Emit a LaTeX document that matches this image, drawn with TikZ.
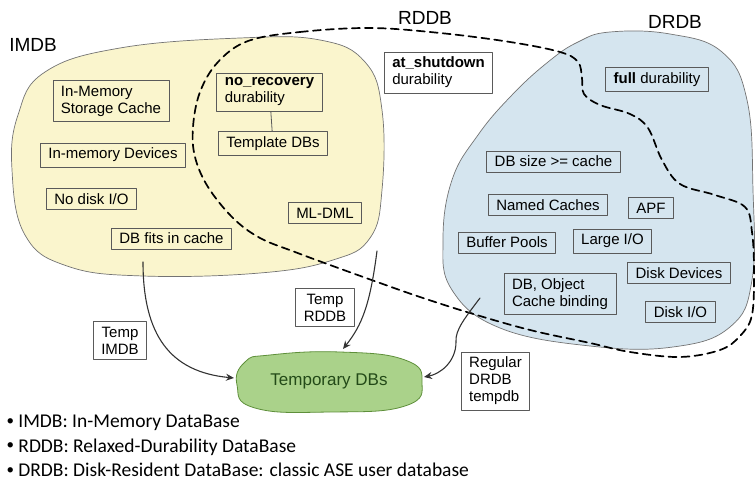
\documentclass[tikz,border=0pt]{standalone}
\usepackage{fontspec}
\setmainfont{Liberation Sans}
\newfontfamily\notefont{Carlito}
\usetikzlibrary{arrows.meta}

\definecolor{imdbfill}{HTML}{FAF5CD}
\definecolor{drdbfill}{HTML}{D5E5EF}
\definecolor{tempfill}{HTML}{AAD28A}
\definecolor{templine}{HTML}{5E8F3A}
\definecolor{temptext}{HTML}{234A18}
\definecolor{boxline}{HTML}{5A5A5A}

\newcommand{\notedot}{\raisebox{0.12em}{\fontsize{15}{15}\selectfont\textbullet}\ }

\tikzset{
  box/.style={draw=boxline, line width=0.8pt, inner xsep=8pt, inner ysep=5pt,
    font=\fontsize{15}{17}\selectfont, align=left},
  setname/.style={font=\fontsize{19}{21}\selectfont},
  feed/.style={line width=1.1pt, draw=black!80, -{Stealth[length=8pt, width=7pt]}},
  note/.style={anchor=west, font=\notefont\fontsize{19.5}{21}\selectfont}
}

\begin{document}
\begin{tikzpicture}[x=1pt, y=-1pt, line cap=round, line join=round]
  \useasboundingbox (0,0) rectangle (756,481);

  % the three regions
  \draw[fill=imdbfill, draw=black!55, line width=0.7pt] plot[smooth cycle, tension=0.7] coordinates {
    (240,38) (320,40) (365,62) (382,110) (382,190) (370,238) (333,260) (260,273)
    (143,276) (67,266) (25,235) (12,170) (18,115) (45,72) (120,48)};
  \draw[fill=drdbfill, draw=black!55, line width=0.7pt] plot[smooth cycle, tension=0.7] coordinates {
    (610,32) (670,34) (722,52) (747,100) (753,190) (752,280) (730,327) (673,347)
    (590,346) (500,328) (452,290) (443,240) (452,180) (478,135) (512,95) (548,62) (578,42)};
  \draw[fill=tempfill, draw=templine, line width=0.8pt] plot[smooth cycle, tension=0.8] coordinates {
    (270,355) (340,352) (405,360) (422,382) (405,406) (330,412) (255,408) (237,385) (245,362)};

  % RDDB border
  \draw[line width=1.7pt, dash pattern=on 8pt off 5pt] plot[smooth cycle, tension=0.6] coordinates {
    (248,41) (300,32) (370,28) (440,33) (510,42) (560,52) (578,62) (582,78) (584,94)
    (600,105) (630,114) (648,128) (662,160) (680,184) (715,195) (745,207) (752,232)
    (754,270) (752,315) (740,336) (720,350) (680,357) (630,352) (590,343) (530,330)
    (470,313) (420,297) (380,283) (330,265) (295,252) (260,238) (233,218) (208,187)
    (195,157) (193,127) (200,92) (218,62)};

  \node[setname] (imdb) at (33,45) {IMDB};
  \node[setname] (rddb) at (425,18) {RDDB};
  \node[setname] (drdb) at (675,22) {DRDB};

  % IMDB
  \node[box, fill=imdbfill] (storecache) at (111,101) {In-Memory\\Storage Cache};
  \node[box, fill=imdbfill] (memdev) at (113,155) {In-memory Devices};
  \node[box, fill=imdbfill] (nodisk) at (91.5,199) {No disk I/O};
  \node[box, fill=imdbfill] (fits) at (171.5,238.5) {DB fits in cache};
  \node[box, fill=imdbfill] (norecov) at (269.5,92) {\textbf{no\_recovery}\\durability};
  \node[box, fill=imdbfill] (template) at (273,143.5) {Template DBs};
  \node[box, fill=imdbfill] (mldml) at (325,213) {ML-DML};
  \draw[boxline, line width=0.8pt] (norecov) -- (template);

  % RDDB
  \node[box, fill=white] (atshut) at (438.5,72.5) {\textbf{at\_shutdown}\\durability};

  % DRDB
  \node[box, fill=drdbfill] (full) at (657,79.5) {\textbf{full} durability};
  \node[box, fill=drdbfill] (dbsize) at (553.5,161.5) {DB size >= cache};
  \node[box, fill=drdbfill] (named) at (548,205) {Named Caches};
  \node[box, fill=drdbfill] (apf) at (651,208) {APF};
  \node[box, fill=drdbfill] (buffer) at (507,242.5) {Buffer Pools};
  \node[box, fill=drdbfill] (largeio) at (612.5,241) {Large I/O};
  \node[box, fill=drdbfill] (diskdev) at (679,273) {Disk Devices};
  \node[box, fill=drdbfill] (binding) at (560,294) {DB, Object\\Cache binding};
  \node[box, fill=drdbfill] (diskio) at (680.5,312) {Disk I/O};

  % temporary databases
  \node[font=\fontsize{17}{19}\selectfont, text=temptext] (temp) at (329,381) {Temporary DBs};
  \coordinate (tempW) at (234,378);
  \coordinate (tempN) at (343,349);
  \coordinate (tempE) at (424,377);
  \coordinate (imdbsrc) at (143,262);
  \coordinate (rddbsrc) at (377,251);
  \coordinate (drdbsrc) at (480,298);

  \draw[feed] (imdbsrc) .. controls (143,335) and (170,372) .. (tempW);
  \draw[feed] (rddbsrc) .. controls (370,305) and (362,325) .. (tempN);
  \draw[feed] (drdbsrc) .. controls (465,318) and (455,330) .. (456,342)
    .. controls (456,362) and (440,374) .. (tempE);

  \node[box, fill=white, align=center] (tempimdb) at (120,340.5) {Temp\\IMDB};
  \node[box, fill=white, align=center] (temprddb) at (325,307.5) {Temp\\RDDB};
  \node[box, fill=white] (regular) at (495.5,381) {Regular\\DRDB\\tempdb};

  % legend
  \node[note] (n1) at (3,423) {\notedot IMDB: In-Memory DataBase};
  \node[note] (n2) at (3,447) {\notedot RDDB: Relaxed-Durability DataBase};
  \node[note] (n3) at (3,470) {\notedot DRDB: Disk-Resident DataBase: classic ASE user database};
\end{tikzpicture}
\end{document}
